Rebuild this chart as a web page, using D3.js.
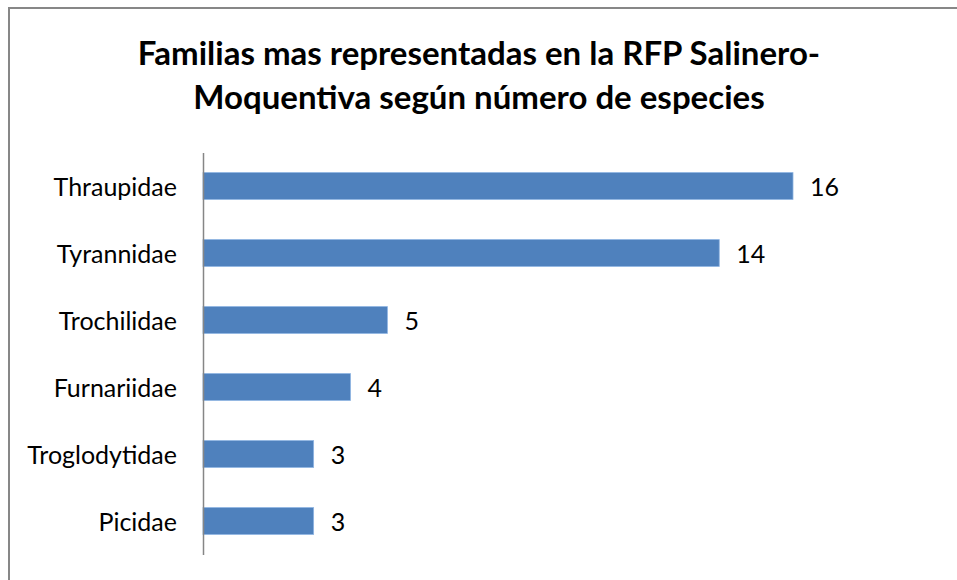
<!DOCTYPE html>
<html>
<head>
<meta charset="utf-8">
<script src="https://cdn.jsdelivr.net/npm/d3@7"></script>
<style>
  body { margin: 0; background: #fff; }
  text { font-family: Lato, "Open Sans", sans-serif; fill: #000; }
</style>
</head>
<body>
<script>
// Data
var families = ["Thraupidae", "Tyrannidae", "Trochilidae", "Furnariidae", "Troglodytidae", "Picidae"];
var species = [16, 14, 5, 4, 3, 3];
var titleLines = ["Familias mas representadas en la RFP Salinero-", "Moquentiva según número de especies"];

var w = 957;
var h = 580;

var svg = d3.select("body").append("svg").attr("width", w).attr("height", h);

// chart border (right and bottom run past the window)
svg.append("rect")
  .attr("x", 9).attr("y", 8)
  .attr("width", 980).attr("height", 600)
  .attr("fill", "none").attr("stroke", "#878787").attr("stroke-width", 2);

// title
svg.selectAll("text.title").data(titleLines).enter().append("text")
  .attr("class", "title")
  .attr("x", 479)
  .attr("y", function(d, i){ return 65 + i * 44; })
  .attr("text-anchor", "middle")
  .style("font-size", "33px")
  .style("font-weight", "bold")
  .text(function(d){ return d; });

var x = d3.scaleLinear().domain([0, 16]).range([203, 793]);
var y = d3.scaleBand().domain(families).range([152.5, 554.5])
  .paddingInner(0.6).paddingOuter(0.3);

var data = families.map(function(f, i){ return {name: f, value: species[i]}; });

// bars
svg.selectAll("rect.bar").data(data).enter().append("rect")
  .attr("class", "bar")
  .attr("x", x(0))
  .attr("y", function(d){ return y(d.name); })
  .attr("width", function(d){ return x(d.value) - x(0); })
  .attr("height", y.bandwidth())
  .attr("fill", "#4f81bd")
  .attr("stroke", "#8db3e2")
  .attr("stroke-width", 0.8);

// value labels
svg.selectAll("text.val").data(data).enter().append("text")
  .attr("class", "val")
  .attr("x", function(d){ return x(d.value) + 17; })
  .attr("y", function(d){ return y(d.name) + y.bandwidth() / 2; })
  .attr("dy", "0.38em")
  .style("font-size", "25px")
  .text(function(d){ return d.value; });

// category axis
var yAxis = d3.axisLeft(y).tickSize(0).tickPadding(26);
var g = svg.append("g").attr("transform", "translate(" + x(0) + ",0)").call(yAxis);
g.select(".domain").attr("stroke", "#868686").attr("stroke-width", 1.5);
g.selectAll(".tick text").attr("dy", "0.38em").style("font-size", "25px").style("font-family", "Lato, 'Open Sans', sans-serif").attr("fill", "#000");
</script>
</body>
</html>
